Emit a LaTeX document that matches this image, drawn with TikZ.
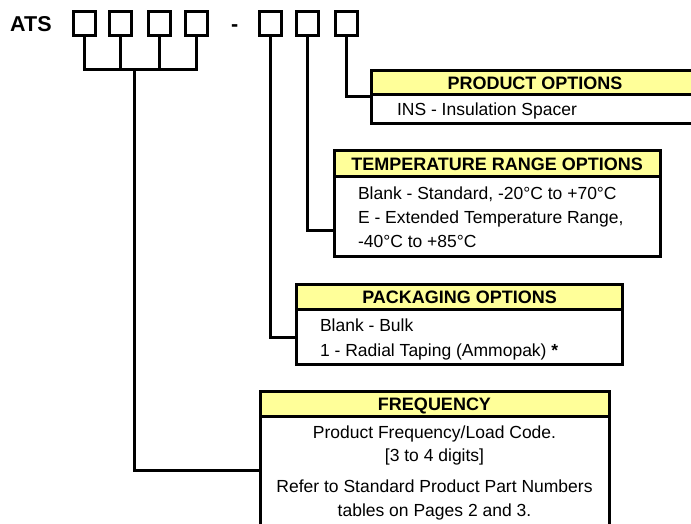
\documentclass[tikz,border=0pt]{standalone}
\usepackage{fontspec}
\setmainfont{Liberation Sans}
\definecolor{hdr}{HTML}{FFFF99}
\begin{document}
\begin{tikzpicture}[x=1pt,y=-1pt,
  conn/.style={line width=3pt},
  digit/.style={draw,line width=3pt,minimum width=22pt,minimum height=24pt,inner sep=0pt,outer sep=0pt},
  hdrbox/.style={draw,line width=3pt,fill=hdr,anchor=north west,inner sep=0pt,outer sep=0pt,
    font=\fontsize{18}{20}\selectfont\bfseries,text height=12.9pt,text depth=0pt},
  bodybox/.style={draw,line width=3pt,fill=white,anchor=north west,inner sep=0pt,outer sep=0pt},
  txt/.style={inner sep=0pt,outer sep=0pt,font=\fontsize{17.5}{20}\selectfont},
  ltxt/.style={txt,anchor=base west},
  ctxt/.style={txt,anchor=base},
]
\useasboundingbox (0,0) rectangle (691,524);
\clip (0,0) rectangle (691,524);

% title and digit boxes
\node[inner sep=0pt,anchor=base west,font=\fontsize{21.5}{24}\selectfont\bfseries] (ats) at (10,31.7) {ATS};
\node[inner sep=0pt,anchor=base west,font=\fontsize{21.5}{24}\selectfont\bfseries] (dash) at (231,31.7) {-};
\node[digit] (b1) at (84.2,23.5) {};
\node[digit] (b2) at (120.8,23.5) {};
\node[digit] (b3) at (159.2,23.5) {};
\node[digit] (b4) at (196.8,23.5) {};
\node[digit] (b5) at (270.8,23.5) {};
\node[digit] (b6) at (307.5,23.5) {};
\node[digit] (b7) at (346.3,23.5) {};

% option boxes
\node[bodybox,minimum width=326.6pt,minimum height=28.3pt] (prodb) at (371.7,95) {};
\node[hdrbox,minimum width=326.6pt,minimum height=24pt] (prodh) at (371.7,71) {PRODUCT OPTIONS};
\node[ltxt] (p1) at (397,116) {INS - Insulation Spacer};

\node[bodybox,minimum width=325.7pt,minimum height=80pt] (tempb) at (334.3,176.7) {};
\node[hdrbox,minimum width=325.7pt,minimum height=25.7pt] (temph) at (334.3,151) {TEMPERATURE RANGE OPTIONS};
\node[ltxt] (t1) at (358,199.3) {Blank - Standard, -20°C to +70°C};
\node[ltxt] (t2) at (358,223.3) {E - Extended Temperature Range,};
\node[ltxt] (t3) at (358,247.7) {-40°C to +85°C};

\node[bodybox,minimum width=325.8pt,minimum height=54.6pt] (packb) at (296.7,309.7) {};
\node[hdrbox,minimum width=325.8pt,minimum height=25.4pt] (packh) at (296.7,284.3) {PACKAGING OPTIONS};
\node[ltxt] (k1) at (320,331) {Blank - Bulk};
\node[ltxt] (k2) at (320,356) {1 - Radial Taping (Ammopak) \textbf{*}};

\node[bodybox,minimum width=349pt,minimum height=125pt] (freqb) at (260,416.3) {};
\node[hdrbox,minimum width=349pt,minimum height=25.3pt] (freqh) at (260,391) {FREQUENCY};
\node[ctxt] (f1) at (434.5,438.3) {Product Frequency/Load Code.};
\node[ctxt] (f2) at (434.5,461.7) {[3 to 4 digits]};
\node[ctxt] (f3) at (434.5,492.7) {Refer to Standard Product Part Numbers};
\node[ctxt] (f4) at (434.5,516) {tables on Pages 2 and 3.};

% connectors
\coordinate (bus) at (134.3,70);
\coordinate (cf) at (260,470);
\coordinate (c5) at (296.7,337.7);
\coordinate (c6) at (334.3,230);
\coordinate (c7) at (371.7,96.7);
\draw[conn] (b1.south) |- (b4.south |- bus) -- (b4.south);
\draw[conn] (b2.south) -- (b2.south |- bus);
\draw[conn] (b3.south) -- (b3.south |- bus);
\draw[conn] (bus) |- (cf);
\draw[conn] (b5.south) |- (c5);
\draw[conn] (b6.south) |- (c6);
\draw[conn] (b7.south) |- (c7);
\end{tikzpicture}
\end{document}
